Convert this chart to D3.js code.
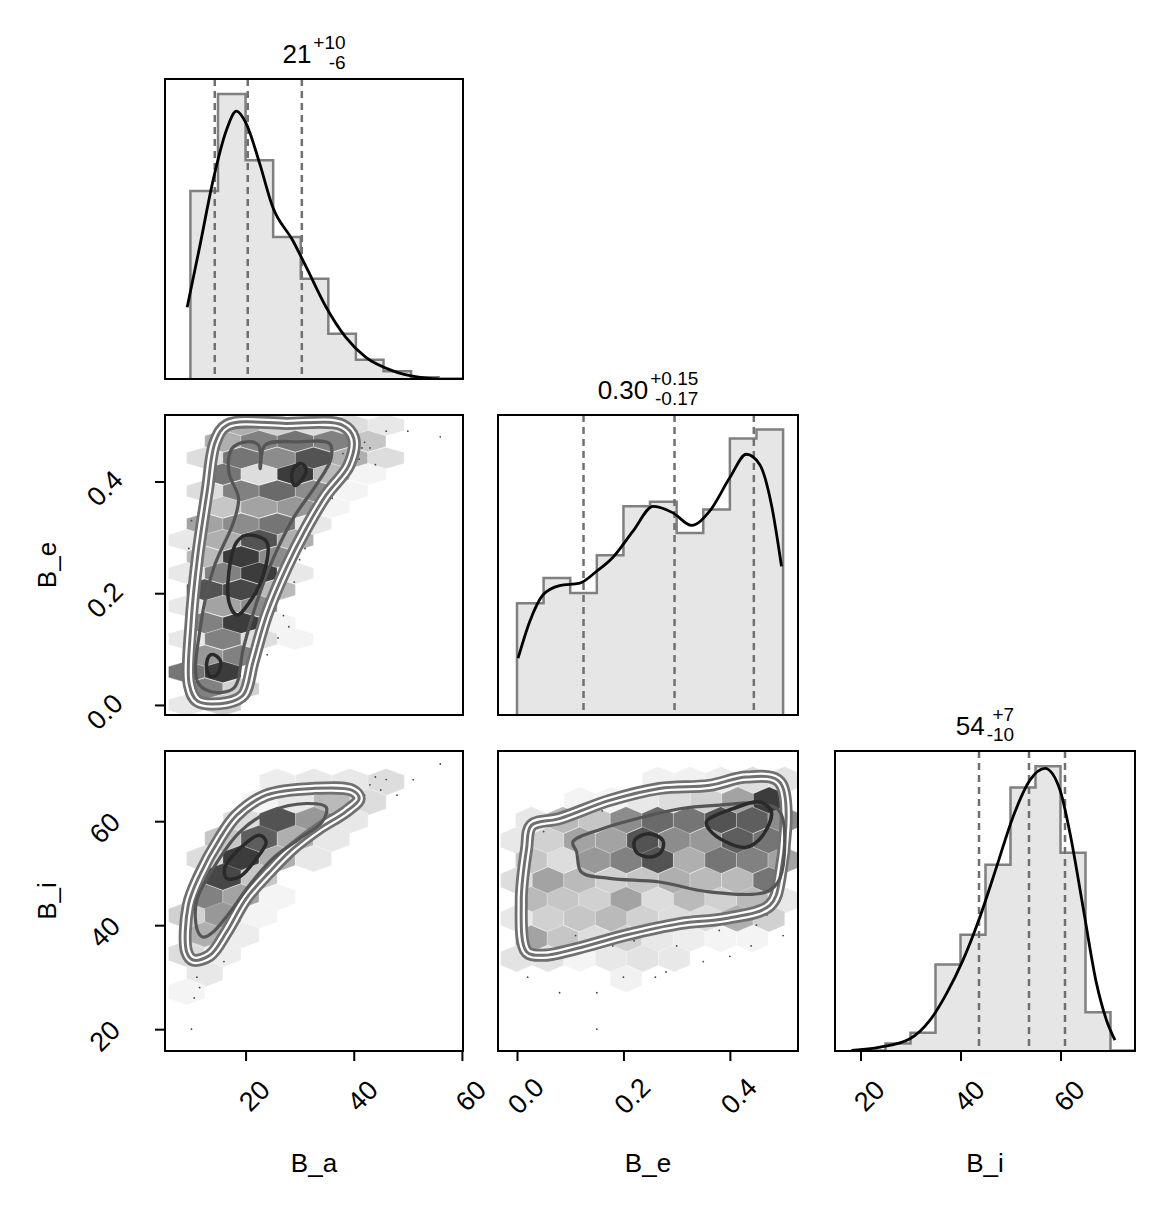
<!DOCTYPE html>
<html>
<head>
<meta charset="utf-8">
<script src="https://cdn.jsdelivr.net/npm/d3@7"></script>
<style>
body{margin:0;background:#fff;}
text{font-family:"Liberation Sans",Arial,sans-serif;fill:#000;}
</style>
</head>
<body>
<svg width="1168" height="1206"></svg>
<script>
// ---- data ----
var names = ["B_a","B_e","B_i"]
var titleMain = ["21","0.30","54"]
var titlePlus = ["+10","+0.15","+7"]
var titleMinus = ["-6","-0.17","-10"]
var ticksBa = [20,40,60]
var ticksBe = [0.0,0.2,0.4]
var ticksBi = [20,40,60]

// histograms (bin edges + relative heights)
var edgesBa = [9.8,14.9,20.0,25.1,30.2,35.3,40.4,45.5,50.6,55.7,60.8]
var histBa = [0.629,0.953,0.732,0.475,0.335,0.151,0.064,0.026,0.006,0.002]
var edgesBe = [0.0,0.05,0.10,0.15,0.20,0.25,0.30,0.35,0.40,0.45,0.50]
var histBe = [0.374,0.458,0.408,0.534,0.698,0.713,0.609,0.687,0.925,0.955]
var edgesBi = [20,25,30,35,40,45,50,55,60,65,70,75]
var histBi = [0.002,0.025,0.061,0.289,0.389,0.623,0.881,0.952,0.663,0.130,0.002]

var kdeBa = [[9.2,0.240],[11.5,0.441],[14.0,0.665],[16.45,0.832],[18.3,0.896],[20.1,0.855],[22.6,0.721],[25.0,0.576],[28.7,0.464],[31.2,0.375],[34.9,0.240],[38.5,0.140],[42.2,0.073],[47.1,0.028],[52.0,0.006],[55.7,0.0]]
var kdeBe = [[0.002,0.190],[0.024,0.313],[0.049,0.402],[0.080,0.433],[0.118,0.441],[0.149,0.480],[0.180,0.527],[0.218,0.615],[0.256,0.698],[0.293,0.676],[0.328,0.634],[0.362,0.682],[0.400,0.794],[0.431,0.872],[0.456,0.838],[0.478,0.704],[0.497,0.497]]
var kdeBi = [[18.2,0.002],[23.9,0.013],[29.9,0.041],[33.9,0.103],[37.2,0.192],[40.5,0.304],[43.9,0.449],[47.2,0.615],[50.5,0.783],[53.9,0.906],[56.9,0.945],[59.9,0.873],[61.9,0.728],[64.5,0.482],[67.2,0.226],[69.2,0.103],[70.9,0.036]]

var quantBa = [14.3,20.4,30.4]
var quantBe = [0.125,0.296,0.445]
var quantBi = [43.7,53.7,60.9]

// hexbin cells: row centre y, first centre x, shades along the row
var hexStepBaBe = 6.7
var hexYBaBe = [0.501,0.472,0.442,0.413,0.383,0.354,0.324,0.295,0.265,0.236,0.206,0.177,0.147,0.118,0.088,0.059,0.029,0.000]
var hexX0BaBe = [19.2,15.8,12.45,15.8,12.45,15.8,12.45,9.1,12.45,9.1,12.45,9.1,12.45,9.1,12.45,9.1,12.45,9.1]
var hexShadeBaBe = [
 [0.35,0.2,0.15,0.15,0.1],
 [0.35,0.55,0.6,0.55,0.25],
 [0.15,0.6,0.5,0.75,0.35,0.15],
 [0.6,0.15,0.85,0.3,0.05],
 [0.15,0.55,0.65,0.5,0.05],
 [0.25,0.4,0.45,0.05],
 [0.4,0.5,0.6,0.1],
 [0.1,0.35,0.75,0.35],
 [0.3,0.85,0.5],
 [0.1,0.55,0.85,0.1],
 [0.75,0.8,0.3],
 [0.1,0.4,0.5],
 [0.55,0.85,0.05],
 [0.1,0.55,0.15,0.05],
 [0.45,0.55],
 [0.6,0.85],
 [0.55,0.2],
 [0.1,0.2]]

var hexStepBaBi = 6.7
var hexYBaBi = [67.55,63.7,60.2,56.65,52.8,49.3,45.4,41.9,38.1,34.5,30.7,27.2]
var hexX0BaBi = [25.9,22.55,19.2,15.8,12.45,15.8,12.45,9.1,12.45,9.1,12.45,9.1]
var hexShadeBaBi = [
 [0.08,0.1,0.1,0.15],
 [0.05,0.1,0.3,0.15],
 [0.15,0.75,0.45,0.1],
 [0.25,0.7,0.35,0.1],
 [0.15,0.85,0.35,0.1],
 [0.8,0.25],
 [0.55,0.4,0.05],
 [0.2,0.45,0.05],
 [0.35,0.08],
 [0.15,0.08],
 [0.1],
 [0.05]]

var hexStepBeBi = 0.0593
var hexYBeBi = [67.9,64.0,60.2,56.3,52.5,48.6,44.8,41.3,37.4,33.6,29.7]
var hexX0BeBi = [0.265,0.118,0.027,-0.001,0.027,-0.001,0.027,-0.001,0.027,-0.001,0.205]
var hexShadeBeBi = [
 [0.06,0.06,0.08,0.15,0.12],
 [0.05,0.05,0.1,0.15,0.2,0.4,0.85],
 [0.1,0.3,0.25,0.5,0.65,0.6,0.75,0.7,0.5],
 [0.1,0.2,0.4,0.4,0.75,0.5,0.45,0.7,0.6],
 [0.25,0.15,0.45,0.55,0.75,0.35,0.6,0.55,0.4],
 [0.15,0.4,0.3,0.2,0.25,0.35,0.3,0.3,0.6],
 [0.3,0.25,0.2,0.4,0.15,0.3,0.2,0.3,0.1],
 [0.1,0.2,0.25,0.3,0.2,0.15,0.15,0.35,0.2],
 [0.4,0.25,0.15,0.2,0.1,0.08,0.05,0.05],
 [0.12,0.12,0.05,0.1,0.12,0.1],
 [0.06]]

// contours
var outerBaBe = [[16.6,0.501],[27.5,0.504],[37.9,0.501],[40.0,0.477],[39.1,0.429],[34.9,0.376],[31.2,0.316],[27.5,0.245],[23.9,0.161],[21.4,0.078],[19.6,0.018],[16.6,0.004],[11.1,0.007],[9.6,0.036],[9.9,0.144],[11.1,0.263],[12.9,0.382],[14.4,0.471]]
var midBaBe = [[17.5,0.459],[20.2,0.471],[22.4,0.465],[22.7,0.423],[23.6,0.465],[30.0,0.471],[35.5,0.468],[35.8,0.441],[33.0,0.393],[28.8,0.334],[25.1,0.262],[22.1,0.185],[19.6,0.102],[17.8,0.030],[13.5,0.024],[11.1,0.042],[11.7,0.143],[14.1,0.245],[17.8,0.328],[18.7,0.370],[16.9,0.417]]
var innerBaBe = [
 [[30.3,0.432],[31.2,0.423],[30.3,0.402],[29.1,0.393],[28.5,0.408],[29.1,0.426]],
 [[20.2,0.304],[23.9,0.292],[23.3,0.233],[20.8,0.185],[18.4,0.161],[16.9,0.185],[17.2,0.257],[18.4,0.292]],
 [[14.1,0.090],[15.4,0.078],[14.7,0.054],[13.5,0.051],[12.8,0.066],[13.2,0.087]]]

var outerBaBi = [[9.1,34.9],[9.4,43.8],[11.5,49.6],[15.2,56.65],[18.3,61.1],[23.8,65.0],[32.4,66.3],[39.8,65.9],[41.0,64.3],[38.5,61.8],[33.6,58.6],[28.7,54.7],[24.4,50.2],[20.1,45.1],[16.5,38.7],[13.4,34.2],[10.3,33.3]]
var midBaBi = [[11.2,38.7],[10.9,44.5],[14.0,50.9],[18.9,57.9],[24.4,61.8],[31.2,63.4],[34.9,62.7],[34.2,59.9],[30.0,56.65],[25.0,52.8],[20.7,47.7],[17.1,42.5],[14.0,38.7],[12.2,37.7]]
var innerBaBi = [[[22.6,57.3],[23.8,56.0],[22.0,52.8],[18.9,49.3],[16.5,49.0],[16.1,50.9],[18.9,54.7]]]

var outerBeBi = [[0.018,34.9],[0.008,44.5],[0.018,54.7],[0.027,59.2],[0.080,60.5],[0.174,64.0],[0.268,66.3],[0.362,66.9],[0.431,68.5],[0.494,67.5],[0.494,49.0],[0.475,43.8],[0.393,41.3],[0.306,40.3],[0.205,38.1],[0.112,35.5],[0.049,34.2]]
var midBeBi = [[0.105,56.0],[0.162,58.6],[0.237,60.8],[0.306,62.4],[0.381,63.1],[0.456,63.4],[0.494,61.8],[0.494,49.0],[0.468,46.4],[0.362,46.4],[0.268,48.3],[0.174,49.0],[0.121,50.2],[0.112,54.1]]
var innerBeBi = [
 [[0.246,57.6],[0.274,56.3],[0.271,54.1],[0.249,53.1],[0.224,54.1],[0.221,56.3]],
 [[0.356,59.9],[0.406,62.4],[0.456,63.7],[0.478,61.8],[0.462,57.3],[0.431,55.0],[0.393,56.0],[0.362,58.3]]]

// stray samples outside the contours
var dotsBaBe = [[40.5,0.49],[42,0.47],[43,0.46],[46,0.49],[50,0.49],[56,0.48],[41,0.44],[44,0.43],[39,0.42],[37,0.40],[36,0.37],[33,0.33],[31,0.28],[30,0.26],[29,0.22],[27,0.16],[28,0.14],[26,0.12],[24,0.09],[10,0.33],[9.5,0.28],[13,0.41],[11,0.30],[41.5,0.46],[38,0.45]]
var dotsBaBi = [[11,30],[11.5,28],[10.5,26],[10,20],[16,33],[41,66],[43,67],[45,66],[46,68],[48,65],[40,64],[51,68],[56,71],[29,67],[44,68.5],[42,65]]
var dotsBeBi = [[0.01,38],[0.03,35],[0.02,30],[0.08,27],[0.15,27],[0.15,20],[0.18,36],[0.25,39],[0.3,36],[0.35,33],[0.22,37],[0.2,30],[0.28,31],[0.4,34],[0.45,40],[0.47,42],[0.5,38],[0.44,36],[0.12,63],[0.16,62],[0.05,58],[0.3,67],[0.47,69],[0.38,39],[0.33,40],[0.26,30],[0.11,38],[0.19,38.5],[0.42,41]]

// ---- layout ----
var colX = [[165,463],[498,798],[835,1135]]
var rowY = [[79,379],[415,715],[751,1051]]

var xs = [
  d3.scaleLinear().domain([5.1,60.2]).range(colX[0]),
  d3.scaleLinear().domain([-0.0357,0.528]).range(colX[1]),
  d3.scaleLinear().domain([14.9,74.9]).range(colX[2])
]
var ys = [
  null,
  d3.scaleLinear().domain([-0.018,0.519]).range([rowY[1][1],rowY[1][0]]),
  d3.scaleLinear().domain([15.8,73.5]).range([rowY[2][1],rowY[2][0]])
]

var svg = d3.select("svg")
var clipId = 0

var panelGroup = function(c, r)
{
  var id = "clip" + (clipId++)
  svg.append("clipPath").attr("id", id).append("rect")
    .attr("x", colX[c][0]).attr("y", rowY[r][0])
    .attr("width", colX[c][1]-colX[c][0]).attr("height", rowY[r][1]-rowY[r][0])
  return svg.append("g").attr("clip-path", "url(#" + id + ")")
}

var frame = function(c, r)
{
  svg.append("rect")
    .attr("x", colX[c][0]).attr("y", rowY[r][0])
    .attr("width", colX[c][1]-colX[c][0]).attr("height", rowY[r][1]-rowY[r][0])
    .attr("fill", "none").attr("stroke", "#000").attr("stroke-width", 2)
}

var drawHist = function(c, edges, heights, kde, quants)
{
  var x = xs[c]
  var y = d3.scaleLinear().domain([0,1]).range([rowY[c][1], rowY[c][0]+1])
  var g = panelGroup(c, c)
  var pts = heights.map(function(h,i){return [edges[i], h]})
  pts.push([edges[edges.length-1], heights[heights.length-1]])
  g.append("path").datum(pts)
    .attr("d", d3.area().curve(d3.curveStepAfter)
      .x(function(d){return x(d[0])}).y0(y(0)).y1(function(d){return y(d[1])}))
    .attr("fill", "#e6e6e6")
  var outline = [[edges[0],0]].concat(pts).concat([[edges[edges.length-1],0]])
  g.append("path").datum(outline)
    .attr("d", d3.line().curve(d3.curveStepAfter)
      .x(function(d){return x(d[0])}).y(function(d){return y(d[1])}))
    .attr("fill", "none").attr("stroke", "#808080").attr("stroke-width", 2.5)
  g.selectAll("line.q").data(quants).enter().append("line")
    .attr("x1", function(d){return x(d)}).attr("x2", function(d){return x(d)})
    .attr("y1", rowY[c][0]).attr("y2", rowY[c][1])
    .attr("stroke", "#707070").attr("stroke-width", 2.5).attr("stroke-dasharray", "7,5")
  g.append("path").datum(kde)
    .attr("d", d3.line().curve(d3.curveMonotoneX)
      .x(function(d){return x(d[0])}).y(function(d){return y(d[1])}))
    .attr("fill", "none").attr("stroke", "#000").attr("stroke-width", 2.8)
  frame(c, c)

  // title with stacked +/- errors
  var cx = (colX[c][0]+colX[c][1])/2
  var by = rowY[c][0] - 16
  var t = svg.append("text").attr("y", by).attr("font-size", 26).text(titleMain[c])
  var sp = svg.append("text").attr("y", by-14).attr("font-size", 19).text(titlePlus[c])
  var sm = svg.append("text").attr("y", by+6).attr("font-size", 19).text(titleMinus[c])
  var wMain = t.node().getComputedTextLength()
  var wSub = Math.max(sp.node().getComputedTextLength(), sm.node().getComputedTextLength())
  var left = cx - (wMain + wSub + 2)/2
  t.attr("x", left)
  sp.attr("x", left+wMain+2+wSub).attr("text-anchor", "end")
  sm.attr("x", left+wMain+2+wSub).attr("text-anchor", "end")
}

var drawPair = function(c, r, hexY, hexX0, hexShade, step, outer, mid, inners, dots)
{
  var x = xs[c], y = ys[r]
  var g = panelGroup(c, r)
  var w = (x(hexX0[0]+step) - x(hexX0[0]))/2
  var R = Math.abs(y(hexY[0]) - y(hexY[1]))/1.5
  var hexPath = "M0," + (-R) + "L" + w + "," + (-R/2) + "L" + w + "," + (R/2) +
    "L0," + R + "L" + (-w) + "," + (R/2) + "L" + (-w) + "," + (-R/2) + "Z"
  var cells = []
  hexY.forEach(function(yy,i){
    hexShade[i].forEach(function(s,j){ cells.push({x:hexX0[i]+j*step, y:yy, s:s}) })
  })
  g.selectAll("path.hex").data(cells).enter().append("path")
    .attr("d", hexPath)
    .attr("transform", function(d){return "translate(" + x(d.x) + "," + y(d.y) + ")"})
    .attr("fill", function(d){var v = Math.round(255*(1-0.9*d.s)); return d3.rgb(v,v,v)})
    .attr("stroke", "#fff").attr("stroke-width", 0.4).attr("stroke-opacity", 0.6)
  g.selectAll("circle").data(dots).enter().append("circle")
    .attr("cx", function(d){return x(d[0])}).attr("cy", function(d){return y(d[1])})
    .attr("r", 0.9).attr("fill", "#444")
  var line = d3.line().curve(d3.curveCatmullRomClosed.alpha(0.5))
    .x(function(d){return x(d[0])}).y(function(d){return y(d[1])})
  g.append("path").attr("d", line(outer)).attr("fill", "none").attr("stroke", "#707070").attr("stroke-width", 13)
  g.append("path").attr("d", line(outer)).attr("fill", "none").attr("stroke", "#fff").attr("stroke-width", 7.5)
  g.append("path").attr("d", line(outer)).attr("fill", "none").attr("stroke", "#707070").attr("stroke-width", 3)
  g.append("path").attr("d", line(mid)).attr("fill", "none").attr("stroke", "#555").attr("stroke-width", 3.2)
  inners.forEach(function(p){
    g.append("path").attr("d", line(p)).attr("fill", "none").attr("stroke", "#2a2a2a").attr("stroke-width", 3.5)
  })
  frame(c, r)
}

drawHist(0, edgesBa, histBa, kdeBa, quantBa)
drawHist(1, edgesBe, histBe, kdeBe, quantBe)
drawHist(2, edgesBi, histBi, kdeBi, quantBi)
drawPair(0, 1, hexYBaBe, hexX0BaBe, hexShadeBaBe, hexStepBaBe, outerBaBe, midBaBe, innerBaBe, dotsBaBe)
drawPair(0, 2, hexYBaBi, hexX0BaBi, hexShadeBaBi, hexStepBaBi, outerBaBi, midBaBi, innerBaBi, dotsBaBi)
drawPair(1, 2, hexYBeBi, hexX0BeBi, hexShadeBeBi, hexStepBeBi, outerBeBi, midBeBi, innerBeBi, dotsBeBi)

// ---- axes ----
var fmt1 = d3.format(".1f")
var xTicks = [ticksBa, ticksBe, ticksBi]
var xFmt = [d3.format("d"), fmt1, d3.format("d")]
xs.forEach(function(x,c){
  var ax = svg.append("g").attr("transform", "translate(0," + rowY[2][1] + ")")
    .call(d3.axisBottom(x).tickValues(xTicks[c]).tickSize(10).tickFormat(""))
  ax.select(".domain").remove()
  ax.selectAll("line").attr("stroke-width", 2)
  svg.selectAll(null).data(xTicks[c]).enter().append("text")
    .attr("transform", function(d){return "translate(" + (x(d)+9) + "," + (rowY[2][1]+45) + ") rotate(-45)"})
    .attr("text-anchor", "middle").attr("dominant-baseline", "central")
    .attr("font-size", 27).text(xFmt[c])
  svg.append("text").attr("x", (colX[c][0]+colX[c][1])/2).attr("y", 1172)
    .attr("text-anchor", "middle").attr("font-size", 26).text(names[c])
})

var yTicks = [null, ticksBe, ticksBi]
var yFmt = [null, fmt1, d3.format("d")]
;[1,2].forEach(function(r){
  var y = ys[r]
  var ax = svg.append("g").attr("transform", "translate(" + colX[0][0] + ",0)")
    .call(d3.axisLeft(y).tickValues(yTicks[r]).tickSize(10).tickFormat(""))
  ax.select(".domain").remove()
  ax.selectAll("line").attr("stroke-width", 2)
  svg.selectAll(null).data(yTicks[r]).enter().append("text")
    .attr("transform", function(d){return "translate(" + (colX[0][0]-60) + "," + (y(d)+7) + ") rotate(-45)"})
    .attr("text-anchor", "middle").attr("dominant-baseline", "central")
    .attr("font-size", 27).text(yFmt[r])
  svg.append("text")
    .attr("transform", "translate(56," + ((rowY[r][0]+rowY[r][1])/2) + ") rotate(-90)")
    .attr("text-anchor", "middle").attr("font-size", 26).text(names[r])
})
</script>
</body>
</html>
